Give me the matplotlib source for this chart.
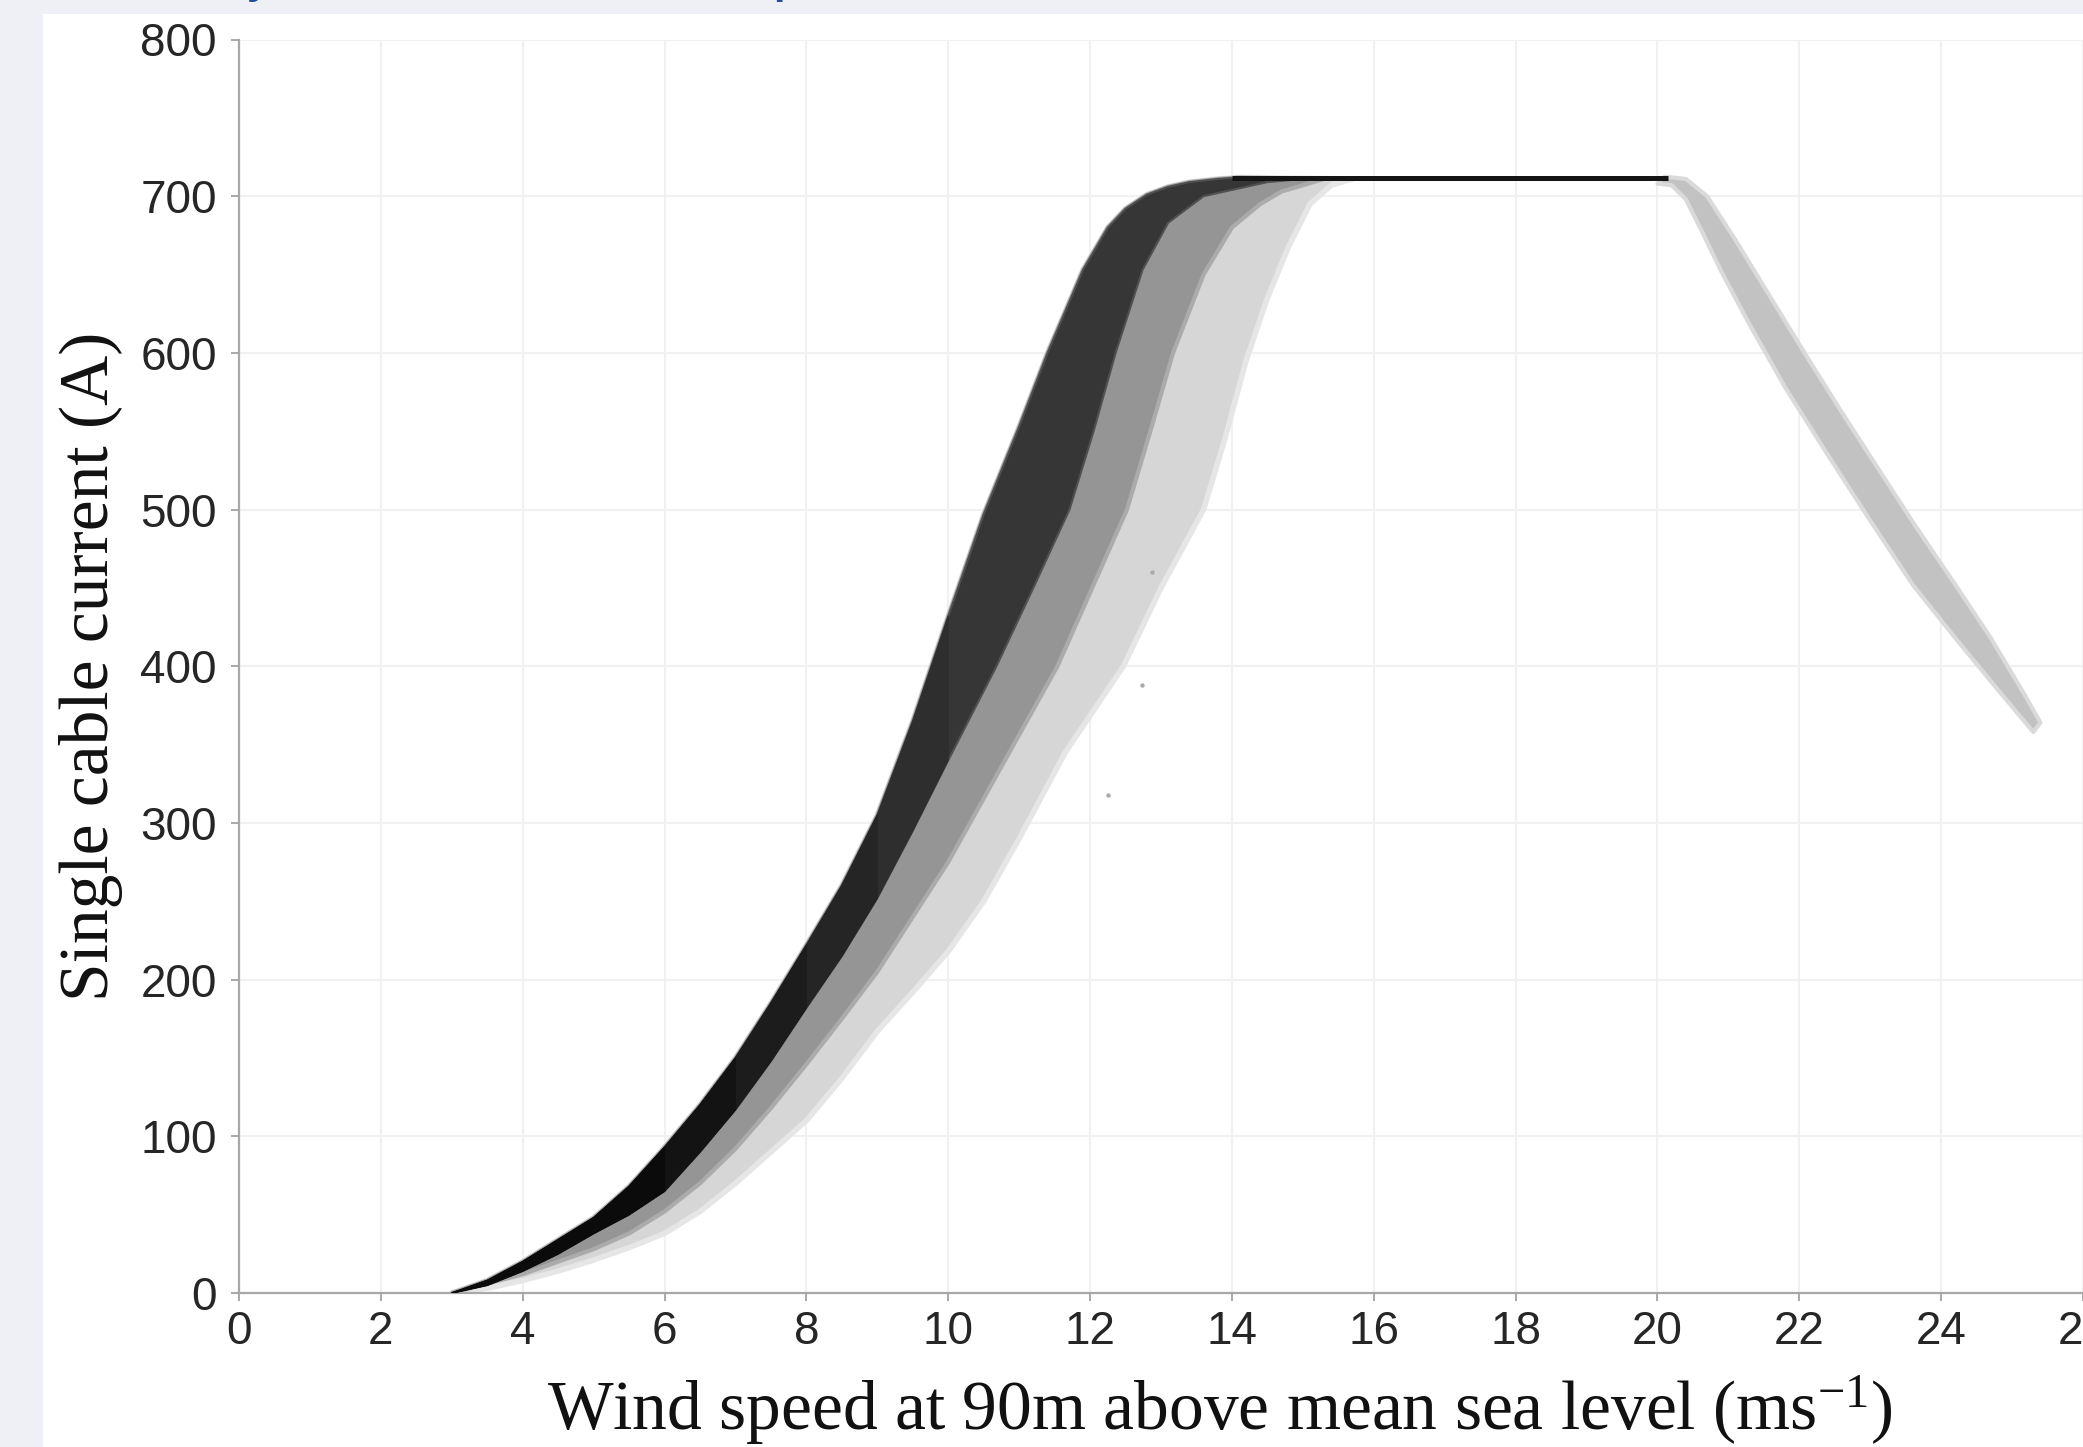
import numpy as np
import matplotlib
matplotlib.use("Agg")
import matplotlib.pyplot as plt
from matplotlib.patches import Rectangle

# Band edges (wind speed m/s, current A)
# left/upper edge of the dense cloud
hi_x = [3.0, 3.5, 4.0, 4.5, 5.0, 5.5, 6.0, 6.5, 7.0, 7.5, 8.0, 8.5, 9.0, 9.5,
        10.0, 10.5, 11.0, 11.4, 11.9, 12.25, 12.5, 12.8, 13.1, 13.4, 13.8, 14.1]
hi_y = [0, 8, 20, 34, 48, 68, 93, 120, 150, 185, 222, 260, 305, 365,
        432, 497, 553, 600, 653, 680, 692, 701, 706, 709, 711, 712]
# lower edge of the solid black core
dark_x = [3.0, 3.5, 4.0, 4.5, 5.0, 5.5, 6.0, 6.5, 7.0, 7.5, 8.0, 8.5, 9.0, 9.5,
          10.0, 10.68, 11.2, 11.71, 12.05, 12.36, 12.74, 13.1, 13.6, 14.5, 15.0]
dark_y = [0, 5, 14, 25, 38, 50, 65, 90, 117, 148, 182, 215, 252, 295,
          340, 400, 450, 500, 550, 600, 653, 683, 700, 709, 711]
# lower edge of the medium grey cloud
mid_x = [3.0, 4.0, 5.0, 5.5, 6.0, 6.5, 7.0, 7.5, 8.0, 8.5, 9.0, 9.5, 10.0,
         10.8, 11.54, 12.52, 12.85, 13.17, 13.6, 14.0, 14.4, 14.7, 15.3]
mid_y = [0, 12, 28, 38, 52, 70, 92, 118, 146, 175, 205, 240, 275,
         340, 400, 500, 550, 600, 650, 680, 695, 703, 711]
# outermost sparse points
lo_x = [3.0, 3.5, 4.0, 4.5, 5.0, 5.5, 6.0, 6.5, 7.0, 7.5, 8.0, 8.5, 9.0, 9.5,
        10.0, 10.5, 11.0, 11.65, 12.47, 13.0, 13.6, 13.9, 14.2, 14.5, 14.8,
        15.1, 15.4, 15.7]
lo_y = [0, 3, 8, 14, 21, 29, 38, 52, 70, 90, 110, 137, 167, 192,
        218, 250, 290, 345, 400, 450, 500, 545, 595, 635, 668,
        695, 707, 711]
# rated plateau
plateau_x = [14.0, 20.15]
plateau_y = [711.3, 711.3]
# cut-out ramp above ~20 m/s
cut_hi_x = [20.1, 20.4, 20.7, 21.1, 21.6, 22.1, 22.6, 23.1, 23.6, 24.2, 24.7, 25.2, 25.4]
cut_hi_y = [712.5, 711, 700, 672, 635, 598, 562, 527, 492, 452, 418, 380, 364]
cut_lo_x = [20.0, 20.2, 20.4, 20.6, 20.9, 21.3, 21.8, 22.4, 23.0, 23.6, 24.2, 24.8, 25.3]
cut_lo_y = [708, 707, 698, 680, 652, 618, 578, 535, 493, 452, 418, 385, 358]
# a few stray points
stray_x = [12.73, 12.25, 12.88]
stray_y = [388, 318, 460]

x_ticks = list(range(0, 27, 2))
y_ticks = list(range(0, 801, 100))

W, H = 2083, 1447
fig = plt.figure(figsize=(W / 100, H / 100), dpi=100)
fig.patch.set_facecolor("#eff0f5")
fig.patches.append(Rectangle((43 / W, 0), 1, 1 - 14 / H, transform=fig.transFigure,
                             facecolor="white", edgecolor="none", zorder=-10))

# cut-off blue heading above the picture (only descenders visible)
for ch, px in [("y", 258), ("p", 786)]:
    fig.text(px / W, 1 + 7 / H, ch, color="#1d4f9c", fontsize=30, fontweight="bold",
             family="Liberation Sans", ha="center", va="baseline")

ax = fig.add_axes([239 / W, (H - 1293) / H, 1 - 239 / W, (1293 - 39.5) / H])
ax.set_facecolor("none")


def band(ux, uy, lx, ly, color, z, edge=None, elw=0.8):
    ax.fill(list(ux) + list(lx)[::-1], list(uy) + list(ly)[::-1],
            facecolor=color, edgecolor=edge or color, lw=elw, zorder=z,
            joinstyle="round")


def cut(xs, lim):
    return xs.index(lim) + 1


# light speckle, medium grey, dark core (getting blacker towards low wind)
band(hi_x, hi_y, lo_x, lo_y, "#d6d6d6", 2, "#e6e6e6", 4)
band(hi_x, hi_y, mid_x, mid_y, "#959595", 3, "#ababab", 3)
band(hi_x, hi_y, dark_x, dark_y, "#363636", 4, "#505050", 1.5)
steps = [(10.0, "#2e2e2e"), (9.0, "#252525"), (8.0, "#1c1c1c"),
         (7.0, "#131313"), (6.0, "#0b0b0b")]
for i, (lim, col) in enumerate(steps):
    band(hi_x[:cut(hi_x, lim)], hi_y[:cut(hi_x, lim)],
         dark_x[:cut(dark_x, lim)], dark_y[:cut(dark_x, lim)], col, 5 + i)
band(cut_hi_x, cut_hi_y, cut_lo_x, cut_lo_y, "#c2c2c2", 2, "#dadada", 3)
ax.plot(plateau_x, plateau_y, color="#141414", lw=3.6, solid_capstyle="butt", zorder=12)
ax.scatter(stray_x, stray_y, s=10, color="#aaaaaa", lw=0, zorder=2)

ax.set_xlim(0, 26)
ax.set_ylim(0, 800)
ax.set_xticks(x_ticks)
ax.set_yticks(y_ticks)
ax.grid(True, color="#f1f1f1", lw=1.5, zorder=0)
ax.set_axisbelow(True)
for s in ["top", "right"]:
    ax.spines[s].set_visible(False)
for s in ["left", "bottom"]:
    ax.spines[s].set_color("#a8a8a8")
    ax.spines[s].set_linewidth(1.6)
ax.tick_params(axis="both", colors="#a8a8a8", labelcolor="#262626", length=6, width=1.4,
               labelsize=33)
ax.tick_params(axis="y", pad=10)
ax.tick_params(axis="x", pad=6)
for lab in ax.get_xticklabels() + ax.get_yticklabels():
    lab.set_family("Liberation Sans")

plt.rcParams["mathtext.default"] = "regular"
ax.set_xlabel(r"Wind speed at 90m above mean sea level (ms$^{-1}$)",
              family="Liberation Serif", fontsize=50, color="#111111")
ax.set_ylabel("Single cable current (A)", family="Liberation Serif", fontsize=50,
              color="#111111")
ax.xaxis.set_label_coords((1220 - 239) / (W - 239), -0.064)
ax.yaxis.set_label_coords(-0.063, 0.5)

fig.savefig("out.png", dpi=100, facecolor=fig.get_facecolor())
